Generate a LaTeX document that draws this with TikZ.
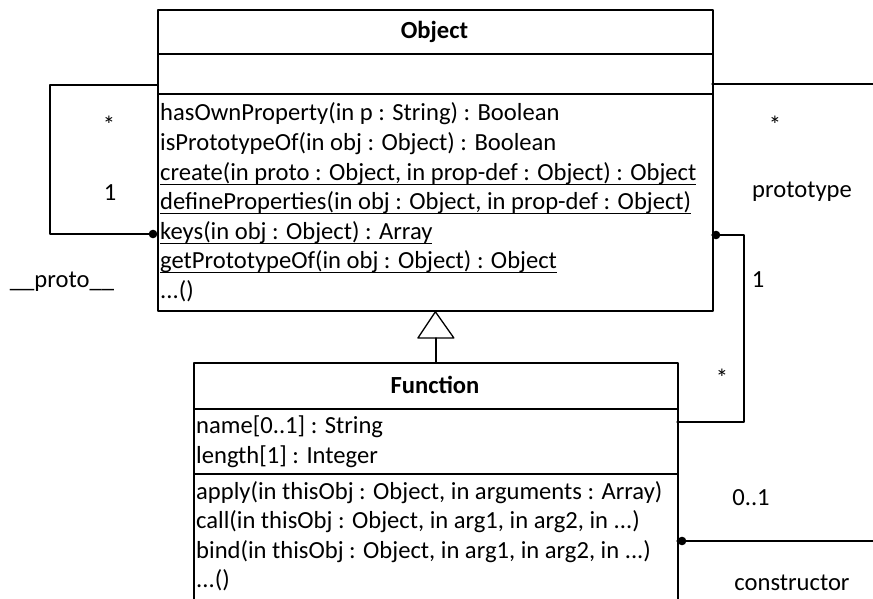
\documentclass[tikz,border=0pt]{standalone}
\usepackage{fontspec}
\setmainfont{Carlito}
\usepackage{tikz}
\usetikzlibrary{positioning}

\newcommand{\clsul}[1]{\setbox0=\hbox{#1}\rlap{\rule[-4.6pt]{\wd0}{1.1pt}}\box0}

\tikzset{
  umlbox/.style={draw, line width=1.8pt, anchor=north west, inner sep=0pt},
  umltext/.style={anchor=base west, inner sep=0pt, font=\fontsize{24.6}{28}\selectfont},
  umltitle/.style={anchor=base, inner sep=0pt, font=\fontsize{24.6}{28}\selectfont\bfseries},
  multlabel/.style={inner sep=0pt, font=\fontsize{24.6}{28}\selectfont},
  assoc/.style={line width=1.3pt},
}

\begin{document}
\begin{tikzpicture}[x=1pt, y=-1pt, line cap=round, line join=round]
	\useasboundingbox (0,0) rectangle (873,599);
	\fill[white] (0,0) rectangle (873,599);
	% Object class
	\node[umlbox, minimum width=555pt, minimum height=44pt] (objhead) at (157,9) {};
	\node[umlbox, minimum width=555pt, minimum height=40pt] (objattr) at (157,53) {};
	\node[umlbox, minimum width=555pt, minimum height=217pt] (objops) at (157,93) {};
	\node[umltitle] (objname) at (434.5,39) {Object};
	\node[umltext] (objop1) at (160,121) {hasOwnProperty(in p : String) : Boolean};
	\node[umltext] (objop2) at (160,150.5) {isPrototypeOf(in obj : Object) : Boolean};
	\node[umltext] (objop3) at (160,180) {\clsul{create(in proto : Object, in prop-def : Object) : Object}};
	\node[umltext] (objop4) at (160,209.5) {\clsul{defineProperties(in obj : Object, in prop-def : Object)}};
	\node[umltext] (objop5) at (160,239) {\clsul{keys(in obj : Object) : Array}};
	\node[umltext] (objop6) at (160,268.5) {\clsul{getPrototypeOf(in obj : Object) : Object}};
	\node[umltext] (objop7) at (160,298) {...()};
	% Function class
	\node[umlbox, minimum width=484pt, minimum height=46pt] (fnhead) at (193,362) {};
	\node[umlbox, minimum width=484pt, minimum height=65pt] (fnattr) at (193,408) {};
	\node[umlbox, minimum width=484pt, minimum height=132pt] (fnops) at (193,473) {};
	\node[umltitle] (fnname) at (435,393) {Function};
	\node[umltext] (fnattr1) at (196,433) {name[0..1] : String};
	\node[umltext] (fnattr2) at (196,463) {length[1] : Integer};
	\node[umltext] (fnop1) at (196,499) {apply(in thisObj : Object, in arguments : Array)};
	\node[umltext] (fnop2) at (196,528.5) {call(in thisObj : Object, in arg1, in arg2, in ...)};
	\node[umltext] (fnop3) at (196,558) {bind(in thisObj : Object, in arg1, in arg2, in ...)};
	\node[umltext] (fnop4) at (196,587.5) {...()};
	% generalization
	\draw[assoc] (fnhead.north) -- ++(0,-24) coordinate (genbase);
	\draw[assoc] (objops.south) -- ([xshift=-18pt]genbase) -- ([xshift=18pt]genbase) -- cycle;
	% __proto__
	\coordinate (protofrom) at (157,85);
	\coordinate (prototo) at (157,234);
	\draw[assoc] (protofrom) -- ++(-107,0) |- (prototo);
	\fill ([xshift=-4pt]prototo) circle (4.3pt);
	\node[multlabel] (protostar) at (109,125) {*};
	\node[multlabel] (protoone) at (110,193) {1};
	\node[multlabel] (protoname) at (62,282) {\_\_proto\_\_};
	% prototype
	\coordinate (protoright) at (712,84);
	\coordinate (protoend) at (873,84);
	\draw[assoc] (protoright) -- (protoend);
	\node[multlabel] (ptstar) at (775,125) {*};
	\node[multlabel] (ptname) at (802,192) {prototype};
	\coordinate (ctorobj) at (712,235);
	\coordinate (ctorfn) at (677,422);
	\draw[assoc] (ctorobj) -- ++(32,0) |- (ctorfn);
	\fill ([xshift=4pt]ctorobj) circle (4.3pt);
	\node[multlabel] (ctorone) at (758,280) {1};
	\node[multlabel] (ctorstar) at (722,378) {*};
	% constructor
	\coordinate (cfrom) at (677,541);
	\coordinate (cend) at (873,541);
	\draw[assoc] (cfrom) -- (cend);
	\fill ([xshift=5pt]cfrom) circle (4.3pt);
	\node[multlabel] (cmult) at (751,498) {0..1};
	\node[multlabel] (cname) at (792,583) {constructor};
\end{tikzpicture}
\end{document}
